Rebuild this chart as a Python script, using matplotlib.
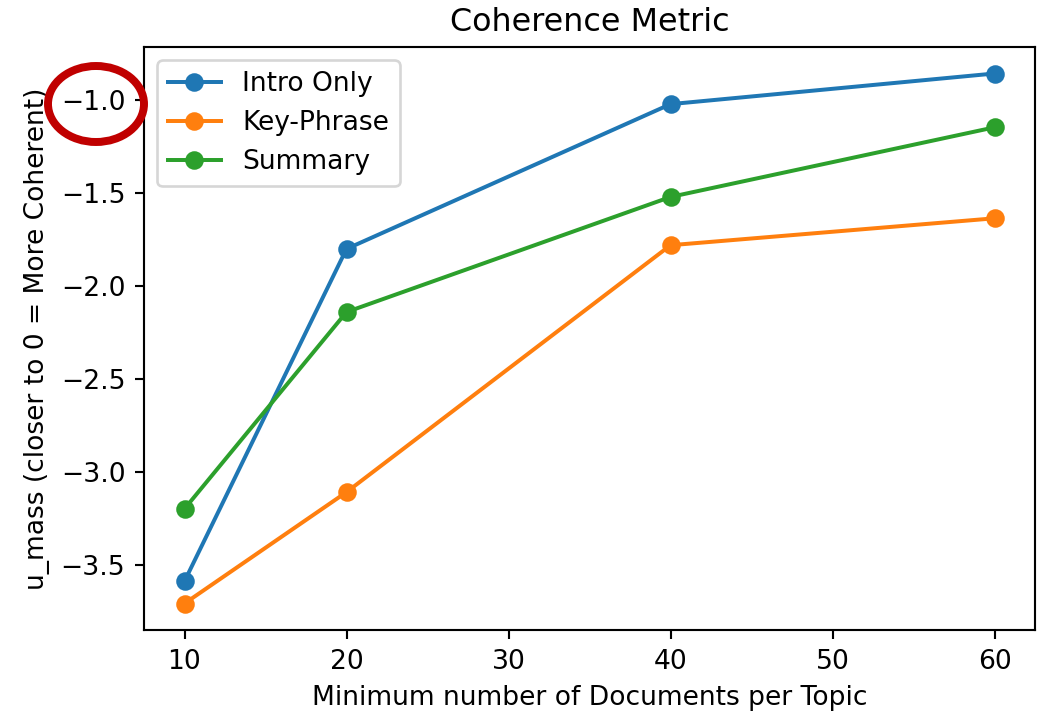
import matplotlib
matplotlib.use('Agg')
import matplotlib.pyplot as plt
from matplotlib.patches import Ellipse

# data
min_docs = [10, 20, 40, 60]
intro_only = [-3.59, -1.80, -1.02, -0.855]
key_phrase = [-3.71, -3.11, -1.78, -1.635]
summary = [-3.20, -2.14, -1.52, -1.145]

# scaled-up notebook figure (72 dpi * ~2.65)
dpi = 190.8
fig = plt.figure(figsize=(1037 / dpi, 717 / dpi), dpi=dpi)
ax = fig.add_axes([144 / 1037, 1 - 630 / 717, (1035 - 144) / 1037, (630 - 47) / 717])

ax.plot(min_docs, intro_only, marker='o', label='Intro Only')
ax.plot(min_docs, key_phrase, marker='o', label='Key-Phrase')
ax.plot(min_docs, summary, marker='o', label='Summary')

ax.set_title('Coherence Metric')
ax.set_xlabel('Minimum number of Documents per Topic')
ax.set_ylabel('u_mass (closer to 0 = More Coherent)')
ax.legend(loc='upper left')

# red circle drawn around the -1.0 tick label
ring = Ellipse((96 / 1037, 1 - 104 / 717), 96 / 1037, 76 / 717,
               transform=fig.transFigure, fill=False, edgecolor='#c00000',
               linewidth=3.0, clip_on=False)
fig.patches.append(ring)

plt.savefig('out.png', dpi=dpi)
plt.close()
